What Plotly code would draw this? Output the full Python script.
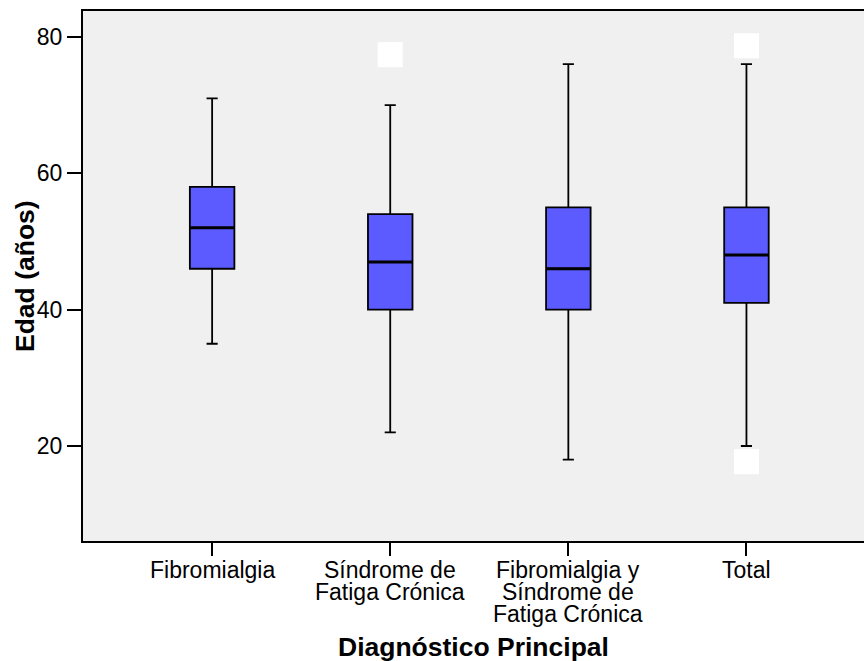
import plotly.graph_objects as go

categories = ["Fibromialgia", "Síndrome de Fatiga Crónica",
              "Fibromialgia y Síndrome de Fatiga Crónica", "Total"]
category_label_lines = [["Fibromialgia"],
                        ["Síndrome de", "Fatiga Crónica"],
                        ["Fibromialgia y", "Síndrome de", "Fatiga Crónica"],
                        ["Total"]]
lower_whisker = [35, 22, 18, 20]
q1 = [46, 40, 40, 41]
median = [52, 47, 46, 48]
q3 = [58, 54, 55, 55]
upper_whisker = [71, 70, 76, 76]

outlier_cat = ["Síndrome de Fatiga Crónica", "Total", "Total"]
outlier_val = [77.4, 78.7, 17.7]

y_ticks = [20, 40, 60, 80]

font = "Liberation Sans, Arial, sans-serif"
TICK_SIZE = 23
TITLE_SIZE = 26.5

fig = go.Figure()
fig.add_trace(go.Box(
    x=categories, q1=q1, median=median, q3=q3,
    lowerfence=lower_whisker, upperfence=upper_whisker,
    width=0.25, whiskerwidth=0.25,
    fillcolor="#5B5BFF", line=dict(color="black", width=1.8),
    boxpoints=False, hoverinfo="skip", showlegend=False,
))
# thicker median lines
fig.add_trace(go.Box(
    x=categories, q1=median, median=median, q3=median,
    lowerfence=median, upperfence=median,
    width=0.25, whiskerwidth=0,
    fillcolor="rgba(0,0,0,0)", line=dict(color="black", width=3),
    boxpoints=False, hoverinfo="skip", showlegend=False,
))
fig.add_trace(go.Scatter(
    x=outlier_cat, y=outlier_val, mode="markers",
    marker=dict(symbol="square", size=25, color="white", line=dict(width=0)),
    hoverinfo="skip", showlegend=False,
))

annotations = []
for cat, lines in zip(categories, category_label_lines):
    for i, line in enumerate(lines):
        annotations.append(dict(
            x=cat, xref="x", y=0, yref="paper", yanchor="middle",
            yshift=-(29 + 22 * i), text=line, showarrow=False,
            font=dict(size=TICK_SIZE, family=font, color="black"),
        ))
annotations.append(dict(
    x=0.5, xref="paper", y=0, yref="paper", yanchor="middle",
    yshift=-106, text="<b>Diagnóstico Principal</b>", showarrow=False,
    font=dict(size=TITLE_SIZE, family=font, color="black"),
))
annotations.append(dict(
    x=0, xref="paper", y=0.5, yref="paper", xanchor="center", yanchor="middle",
    xshift=-58, textangle=-90, text="<b>Edad (años)</b>", showarrow=False,
    font=dict(size=TITLE_SIZE, family=font, color="black"),
))

fig.update_layout(
    width=864, height=661,
    margin=dict(l=83, r=0, t=11, b=120),
    paper_bgcolor="white", plot_bgcolor="#F0F0F0",
    font=dict(family=font, size=TICK_SIZE, color="black"),
    boxmode="overlay",
    annotations=annotations,
    xaxis=dict(
        type="category", categoryorder="array", categoryarray=categories,
        range=[-0.725, 3.66], automargin=False,
        showgrid=False, zeroline=False, showticklabels=False,
        showline=True, linecolor="black", linewidth=2, mirror=True,
        ticks="outside", ticklen=13, tickwidth=1.5, tickcolor="black",
    ),
    yaxis=dict(
        range=[6.07, 83.8], automargin=False,
        tickvals=y_ticks,
        showgrid=False, zeroline=False,
        showline=True, linecolor="black", linewidth=2,
        ticks="outside", ticklen=14, tickwidth=2, tickcolor="black",
        tickfont=dict(size=TICK_SIZE),
    ),
)
fig.write_html(
    "out.html",
    config={"displayModeBar": False},
    post_script="document.body.style.margin='0';document.body.style.overflow='hidden';",
)
